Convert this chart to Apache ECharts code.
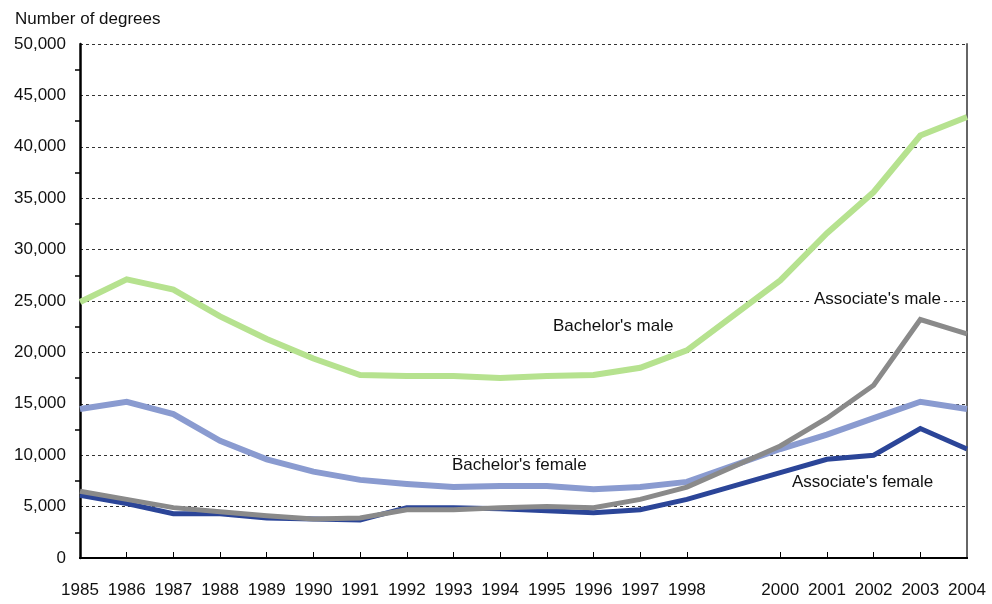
<!DOCTYPE html>
<html><head><meta charset="utf-8">
<script src="https://cdn.jsdelivr.net/npm/echarts@6/dist/echarts.min.js"></script>
<style>html,body{margin:0;padding:0;background:#fff}#c{width:992px;height:604px}</style>
</head><body><div id="c"></div>
<script>
const years = ['1985','1986','1987','1988','1989','1990','1991','1992','1993','1994','1995','1996','1997','1998','1999','2000','2001','2002','2003','2004'];
const bachelorsMale   = [24900,27100,26100,23500,21300,19400,17800,17700,17700,17500,17700,17800,18500,20200,null,27000,31600,35600,41100,42900];
const bachelorsFemale = [14500,15200,14000,11400,9600,8400,7600,7200,6900,7000,7000,6700,6900,7400,null,10600,12000,13600,15200,14500];
const associatesMale  = [6500,5700,4900,4500,4100,3800,3900,4700,4700,4900,5000,4900,5700,6900,null,10900,13600,16800,23200,21800];
const associatesFemale= [6100,5300,4300,4300,3900,3800,3700,4900,4900,4800,4600,4400,4700,5700,null,8300,9600,10000,12600,10600];
const hiddenYear = '1999';

const FONT = '"Liberation Sans Narrow", "Liberation Sans", Arial, sans-serif';
const chart = echarts.init(document.getElementById('c'), null, {renderer:'canvas'});
function line(name, data, color, z, w){
  return {name, type:'line', data, connectNulls:true, symbol:'none', z,
    lineStyle:{color, width:w, join:'miter'}, itemStyle:{color}};
}
chart.setOption({
  animation:false,
  grid:{left:80, right:25, top:44, bottom:46},
  title:{text:'Number of degrees', left:10, top:6,
    textStyle:{fontFamily:FONT, fontSize:17, fontWeight:'normal', color:'#111'}},
  xAxis:[{type:'category', data:years, boundaryGap:false,
    axisLine:{lineStyle:{color:'#000', width:2}},
    axisTick:{inside:true, length:6, alignWithLabel:true, lineStyle:{color:'#000'},
      interval:(i,v)=>v!==hiddenYear && i!==0 && i!==years.length-1},
    axisLabel:{margin:24, fontFamily:FONT, fontSize:17, color:'#111', interval:0,
      formatter:v=>v===hiddenYear?'':v},
    splitLine:{show:false}},
   {type:'category', data:years, position:'top', boundaryGap:false,
    axisLine:{lineStyle:{color:'#000', width:2}}, axisTick:{show:false}, axisLabel:{show:false}}],
  yAxis:[{type:'value', min:0, max:50000, interval:5000,
    axisLine:{show:true, lineStyle:{color:'#000', width:2.5}},
    axisTick:{show:false},
    minorTick:{show:true, splitNumber:2, length:5, lineStyle:{color:'#000', width:1.5}},
    axisLabel:{margin:14, fontFamily:FONT, fontSize:17, color:'#111',
      formatter:v=>v.toLocaleString('en-US')},
    splitLine:{show:true, lineStyle:{color:'#333', type:[3,3], width:1}}},
   {type:'value', min:0, max:50000, interval:5000, position:'right',
    axisLine:{show:true, lineStyle:{color:'#666', width:2}},
    axisTick:{show:false}, axisLabel:{show:false}, splitLine:{show:false}}],
  series:[
    line("Bachelor's male", bachelorsMale, '#b6e28f', 3, 6),
    line("Bachelor's female", bachelorsFemale, '#8a9bd0', 4, 6),
    line("Associate's female", associatesFemale, '#2b4598', 5, 5),
    line("Associate's male", associatesMale, '#8a8a8a', 6, 5)
  ],
  graphic:[
    {type:'text', left:553, top:318, style:{text:"Bachelor's male", font:'17px '+FONT, fill:'#111'}},
    {type:'text', left:452, top:457, style:{text:"Bachelor's female", font:'17px '+FONT, fill:'#111'}},
    {type:'text', left:812, top:291, z:10, style:{text:"Associate's male", font:'17px '+FONT, fill:'#111', backgroundColor:'#fff', padding:[0,2]}},
    {type:'text', left:792, top:474, style:{text:"Associate's female", font:'17px '+FONT, fill:'#111'}}
  ]
});
</script></body></html>
